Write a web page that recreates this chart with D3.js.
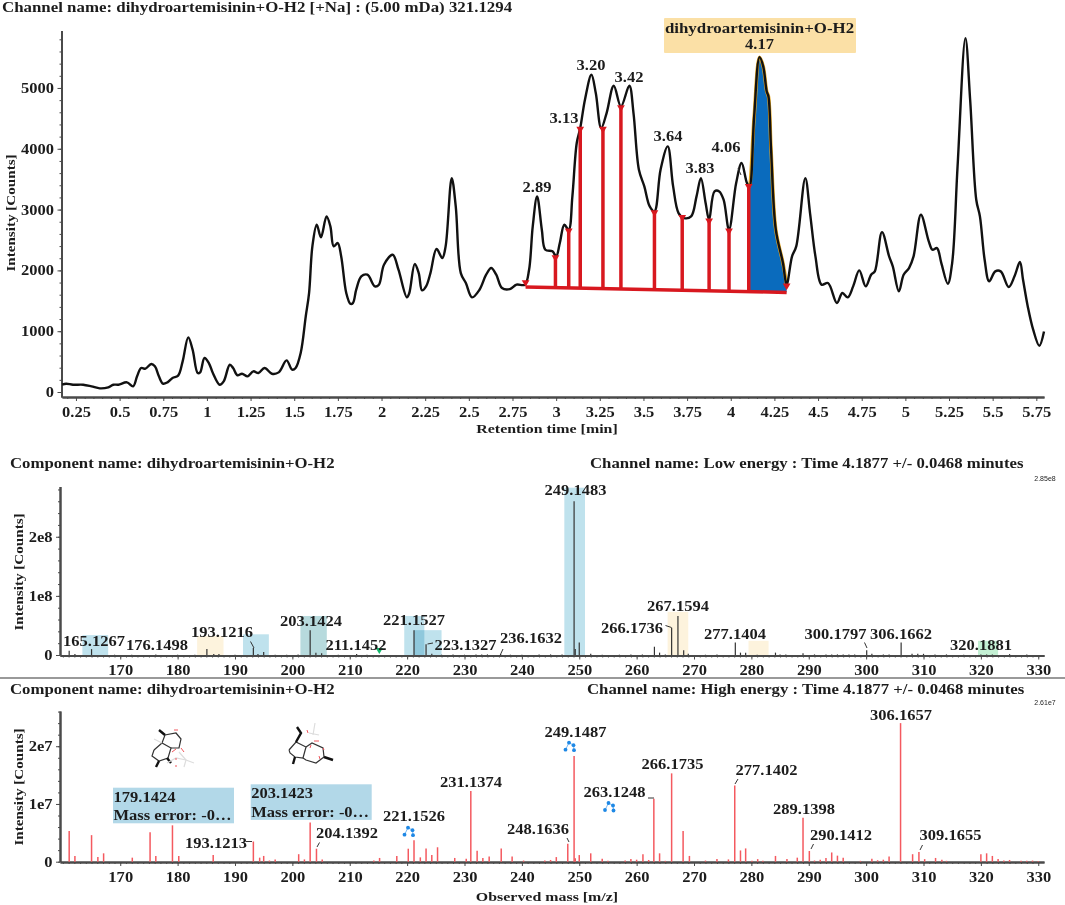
<!DOCTYPE html>
<html>
<head>
<meta charset="utf-8">
<script src="https://cdn.jsdelivr.net/npm/d3@7"></script>
<style>
  html, body { margin: 0; padding: 0; background: #fff; }
  svg { display: block; filter: blur(0.4px); }
  text { font-family: "Liberation Serif", serif; font-weight: bold; fill: #1c1c1c; }
</style>
</head>
<body>
<div id="chart"></div>
<script>
// chromatogram
const rtTimes = [0.171,0.194,0.233,0.291,0.339,0.387,0.435,0.464,0.493,0.542,0.577,0.600,0.623,0.648,0.681,0.702,0.725,0.748,0.774,0.803,0.835,0.861,0.893,0.918,0.947,0.961,0.986,1.011,1.034,1.073,1.096,1.131,1.150,1.175,1.201,1.233,1.266,1.295,1.330,1.372,1.411,1.456,1.488,1.508,1.537,1.566,1.585,1.604,1.629,1.653,1.685,1.707,1.726,1.749,1.769,1.798,1.821,1.836,1.855,1.884,1.919,1.962,1.985,2.014,2.064,2.097,2.145,2.159,2.190,2.213,2.232,2.255,2.280,2.315,2.348,2.367,2.402,2.425,2.454,2.483,2.518,2.561,2.599,2.628,2.657,2.690,2.735,2.773,2.821,2.845,2.866,2.891,2.918,2.938,2.979,3.000,3.021,3.047,3.072,3.093,3.118,3.138,3.165,3.202,3.227,3.258,3.289,3.330,3.371,3.419,3.443,3.474,3.505,3.536,3.563,3.598,3.639,3.670,3.701,3.732,3.773,3.804,3.829,3.856,3.876,3.907,3.934,3.959,3.990,4.031,4.062,4.093,4.107,4.134,4.165,4.186,4.206,4.216,4.231,4.258,4.299,4.320,4.351,4.375,4.427,4.454,4.485,4.520,4.557,4.608,4.639,4.670,4.701,4.736,4.773,4.804,4.825,4.866,4.907,4.928,4.963,4.990,5.021,5.047,5.089,5.134,5.155,5.181,5.206,5.243,5.268,5.299,5.344,5.371,5.406,5.427,5.454,5.480,5.515,5.546,5.592,5.625,5.656,5.674,5.701,5.732,5.767,5.794];
const rtCounts = [120,137,120,120,93,60,77,120,120,159,93,258,395,384,460,422,258,137,159,230,269,504,899,696,312,323,559,477,312,120,175,449,395,274,301,258,340,312,395,301,323,521,367,395,641,1244,1628,2395,2751,2543,2888,2724,2395,2450,2230,1628,1452,1463,1682,1902,1929,1737,1765,2093,2258,2011,1556,1628,2104,1956,1671,1737,1956,2351,2203,2395,3518,3052,1956,1792,1556,1682,1929,2039,1929,1710,1693,1765,1765,2011,2724,3217,2669,2340,2313,2230,2450,2751,2669,3217,4094,4340,4806,5217,4916,4340,4587,5036,4696,5036,4587,3655,3381,3052,2970,3655,4039,3381,2943,2861,2888,3217,3518,3107,2833,3299,3299,3162,2669,3436,3765,3436,3381,4532,5507,5354,4943,4861,3984,2669,2121,1765,2230,2395,3518,2943,2230,1765,1792,1463,1628,1556,1737,2000,1737,1929,1984,2630,2230,2066,1655,1929,2039,2230,2915,2477,2340,2367,2121,1781,2121,3710,5820,4806,3162,2888,2176,1819,1984,1984,1726,1902,2137,1847,1408,1025,762,997];
const rtTicks = [0.25,0.5,0.75,1,1.25,1.5,1.75,2,2.25,2.5,2.75,3,3.25,3.5,3.75,4,4.25,4.5,4.75,5,5.25,5.5,5.75];
const countTicks = [0,1000,2000,3000,4000,5000];

// integration drop lines and the baseline under them
const dropTimes = [2.825,2.996,3.072,3.138,3.268,3.371,3.563,3.722,3.876,3.990,4.103,4.320];
const dropTops = [1819,2230,2669,4340,4340,4696,2970,2890,2833,2669,3400,1765];
const baseTimes = [2.825,4.320];
const baseCounts = [1726,1638];
const peakNames = ['2.89','3.13','3.20','3.42','3.64','3.83','4.06'];

// low energy spectrum, intensity in units of 1e8
const lowMz = [161.1,162.1,165,169,172,176.2,180,183,185.1,186.3,187.2,190,193.2,194,195,197,199,201,203.1,204.1,205.1,208,211.2,213,221.2,223.3,224.3,226,228,230,232,233,234,236.3,238,240,243,245,247,249.1,249.3,250,252,254,257,259,261,263.1,264,265,266.1,267.2,268.2,269,272,274,277.2,278.1,279,281,284.2,285,286,289,291,293,294,295,296,297,298,300.1,301,303,304,306.1,308,309,310,312,314,317,320,321,322,325,328];
const lowInt = [0.07,0.015,0.10,0.005,0.005,0.01,0.005,0.005,0.10,0.015,0.015,0.005,0.12,0.015,0.05,0.005,0.005,0.01,0.42,0.04,0.03,0.005,0.015,0.005,0.42,0.18,0.02,0.005,0.01,0.005,0.01,0.01,0.01,0.015,0.005,0.005,0.01,0.01,0.01,2.60,0.10,0.21,0.02,0.005,0.005,0.01,0.01,0.14,0.04,0.01,0.46,0.66,0.08,0.02,0.005,0.01,0.21,0.04,0.04,0.005,0.04,0.01,0.01,0.03,0.01,0.01,0.01,0.01,0.01,0.01,0.01,0.08,0.02,0.01,0.01,0.21,0.02,0.02,0.02,0.01,0.01,0.005,0.01,0.01,0.01,0.015,0.01];

// high energy spectrum, intensity in units of 1e7
const highMz = [161.1,162.1,165,166.1,167.1,172.1,175.2,176.2,179.1,180.2,186.2,193.2,194.3,195,196,197,201.1,202.1,203.1,204.2,205.2,214.2,215.2,218.2,220.2,221.2,222.3,223.3,224.3,225.3,228.3,230.3,231.1,232.2,233.2,234.3,236.4,238.3,240.3,244,245,246,248,249.1,249.3,250,252,254,255,258,259,260,261.1,262.1,263,264,265,266.1,268.1,269.2,272,274,276,277.1,278.1,279,280.1,281.1,282,284.2,286.2,288,289,290.1,291,292,293,294,295,296,299,301,302,303,304,306,308.1,309.2,310.2,312.1,313.2,314,320,321,322,323,324,325,327,328,329,330];
const highInt = [0.53,0.10,0.46,0.08,0.145,0.07,0.51,0.10,0.63,0.10,0.115,0.35,0.07,0.10,0.02,0.04,0.13,0.04,0.68,0.225,0.04,0.02,0.065,0.10,0.225,0.37,0.075,0.23,0.115,0.25,0.065,0.05,1.225,0.19,0.065,0.09,0.23,0.09,0.02,0.02,0.03,0.08,0.31,1.83,0.06,0.115,0.145,0.05,0.015,0.02,0.045,0.035,0.13,0.03,1.09,0.145,0.015,1.53,0.53,0.10,0.02,0.045,0.04,1.32,0.195,0.23,0.015,0.045,0.015,0.10,0.045,0.07,0.76,0.185,0.02,0.035,0.065,0.16,0.105,0.07,0.015,0.05,0.025,0.035,0.09,2.40,0.13,0.17,0.045,0.065,0.035,0.015,0.13,0.145,0.10,0.045,0.02,0.03,0.015,0.015,0.02,0.01];

const mzTicks = [170,180,190,200,210,220,230,240,250,260,270,280,290,300,310,320,330];

// matched-fragment bands on the low energy spectrum: start, end, height (1e8)
const bandStart = [163.4,183.4,191.4,201.4,219.5,221.2,247.4,265.4,279.5,319.5];
const bandEnd = [167.9,188,195.9,206,223,226,251,269,283,323];
const bandTop = [0.336,0.32,0.35,0.66,0.66,0.42,2.83,0.73,0.24,0.24];
const bandKind = ['b','o','b','t','b','b','b','o','o','g'];
const bandFill = { b: '#bfe2ed', o: '#fdf3dd', t: '#b7dadd', g: '#c4f0d4' };

const width = 1065, height = 905;
const black = '#111', axisColor = '#4a4a4a', red = '#d8181f';

const svg = d3.select('#chart').append('svg').attr('width', width).attr('height', height);
svg.append('rect').attr('width', width).attr('height', height).attr('fill', '#fff');

// bold serif, stretched sideways the way the source image is
function label(str, x, y, anchor = 'middle', size = 14) {
  return svg.append('text')
    .attr('transform', `translate(${x},${y}) scale(1.18,1)`)
    .attr('text-anchor', anchor)
    .attr('dominant-baseline', 'central')
    .style('font-size', size + 'px')
    .text(str);
}

function leader(x1, y1, x2, y2, color = '#333') {
  svg.append('line').attr('x1', x1).attr('y1', y1).attr('x2', x2).attr('y2', y2)
    .attr('stroke', color).attr('stroke-width', 1);
}

// axis pair with long labelled ticks and short unlabelled ones
function drawAxes(x, y, xY, yX, xTicks, xMinor, yTicks, yMinor, yFormat, xFormat) {
  const style = g => {
    g.selectAll('path').attr('stroke', axisColor).attr('stroke-width', 2);
    g.selectAll('line').attr('stroke', axisColor);
    g.selectAll('text').style('font-size', '14px');
  };
  svg.append('g').attr('transform', `translate(0,${xY})`)
    .call(d3.axisBottom(x).tickValues(xMinor).tickSize(2).tickFormat('').tickSizeOuter(0)).call(style);
  const gx = svg.append('g').attr('transform', `translate(0,${xY})`)
    .call(d3.axisBottom(x).tickValues(xTicks).tickSize(4).tickPadding(6).tickFormat(xFormat).tickSizeOuter(0)).call(style);
  svg.append('g').attr('transform', `translate(${yX},0)`)
    .call(d3.axisLeft(y).tickValues(yMinor).tickSize(2).tickFormat('').tickSizeOuter(0)).call(style);
  const gy = svg.append('g').attr('transform', `translate(${yX},0)`)
    .call(d3.axisLeft(y).tickValues(yTicks).tickSize(4).tickPadding(4).tickFormat(yFormat).tickSizeOuter(0)).call(style);
  gx.selectAll('text').attr('transform', 'scale(1.18,1)').attr('x', 0);
  gy.selectAll('text').attr('transform', 'translate(-7.5,0) scale(1.18,1)').attr('x', 0);
}

function yTitle(str, x, y) {
  svg.append('text')
    .attr('transform', `translate(${x},${y}) rotate(-90) scale(1.12,1)`)
    .attr('text-anchor', 'middle')
    .attr('dominant-baseline', 'central')
    .style('font-size', '13.5px')
    .text(str);
}

// ---- chromatogram ----
const xRt = d3.scaleLinear().domain([0.17, 5.794]).range([62, 1044]);
const yCounts = d3.scaleLinear().domain([-82, 5945]).range([397, 30.5]);
const rtMinor = d3.range(0.2, 5.79, 0.05);
const countMinor = d3.range(0, 5900, 200);

label('Channel name: dihydroartemisinin+O-H2 [+Na] : (5.00 mDa) 321.1294', 2, 7, 'start', 14.3);
drawAxes(xRt, yCounts, 397, 61.5, rtTicks, rtMinor, countTicks, countMinor, d3.format('d'), d3.format('~g'));
yTitle('Intensity [Counts]', 10, 213);
label('Retention time [min]', 547, 428, 'middle', 13.5);

const rows = rtTimes.map((t, i) => ({ t, c: rtCounts[i] }));
const line = d3.line().x(d => xRt(d.t)).y(d => yCounts(d.c)).curve(d3.curveCatmullRom.alpha(0.5));

// blue integrated peak down to the baseline
const baseAt = d3.scaleLinear().domain(baseTimes).range(baseCounts);
const lastDrops = dropTimes.slice(-2);
const peakRows = rows.filter(d => d.t > lastDrops[0] && d.t < lastDrops[1]);
const peakEdge = [{ t: lastDrops[0], c: dropTops[10] }, ...peakRows, { t: lastDrops[1], c: dropTops[11] }];
svg.append('path')
  .datum(peakEdge)
  .attr('d', d3.area().x(d => xRt(d.t)).y0(d => yCounts(baseAt(d.t))).y1(d => yCounts(d.c)).curve(d3.curveCatmullRom.alpha(0.5)))
  .attr('fill', '#0a6bbd');
svg.append('path').datum(peakEdge).attr('d', line).attr('fill', 'none').attr('stroke', '#e8a820').attr('stroke-width', 3.5);

svg.append('path').datum(rows).attr('d', line).attr('fill', 'none')
  .attr('stroke', black).attr('stroke-width', 2.4).attr('stroke-linejoin', 'round');

// red integration marks
svg.append('g').selectAll('line').data(dropTimes).join('line')
  .attr('x1', d => xRt(d)).attr('x2', d => xRt(d))
  .attr('y1', (d, i) => yCounts(dropTops[i]))
  .attr('y2', d => yCounts(baseAt(d)))
  .attr('stroke', (d, i) => i === 0 || i === 11 ? 'none' : red)
  .attr('stroke-width', 3.5);
svg.append('line')
  .attr('x1', xRt(baseTimes[0])).attr('y1', yCounts(baseCounts[0]))
  .attr('x2', xRt(baseTimes[1])).attr('y2', yCounts(baseCounts[1]))
  .attr('stroke', red).attr('stroke-width', 3.5);
svg.append('g').selectAll('path').data(dropTimes).join('path')
  .attr('transform', (d, i) => `translate(${xRt(d)},${yCounts(dropTops[i]) + 1}) rotate(180)`)
  .attr('d', d3.symbol(d3.symbolTriangle, 26))
  .attr('fill', red);

const peakLabelX = [537, 564, 591, 629, 668, 700, 726];
const peakLabelY = [187, 118, 65, 77, 136, 168, 147];
peakNames.forEach((p, i) => label(p, peakLabelX[i], peakLabelY[i], 'middle', 14));
leader(738, 168, 741, 175);

svg.append('rect').attr('x', 664).attr('y', 18).attr('width', 192).attr('height', 35).attr('rx', 1).attr('fill', '#fbe0a6');
label('dihydroartemisinin+O-H2', 759.5, 27.5, 'middle', 14.3);
label('4.17', 759.5, 44, 'middle', 14);

// ---- spectra ----
const xMz = d3.scaleLinear().domain([159.5, 331]).range([60, 1044]);
const mzMinor = d3.range(160, 331, 1);

// low energy
const yLow = d3.scaleLinear().domain([0, 2.85]).range([655, 486.5]);
label('Component name: dihydroartemisinin+O-H2', 10, 463, 'start', 14.2);
label('Channel name: Low energy : Time 4.1877 +/- 0.0468 minutes', 590, 463, 'start', 14.2);
svg.append('text').attr('x', 1045).attr('y', 478).attr('text-anchor', 'middle').attr('dominant-baseline', 'central')
  .style('font-family', 'Liberation Sans').style('font-weight', 'normal').style('font-size', '7px').text('2.85e8');

svg.append('g').selectAll('rect').data(bandStart).join('rect')
  .attr('x', d => xMz(d))
  .attr('width', (d, i) => xMz(bandEnd[i]) - xMz(d))
  .attr('y', (d, i) => yLow(bandTop[i]))
  .attr('height', (d, i) => yLow(0) - yLow(bandTop[i]))
  .attr('fill', (d, i) => bandFill[bandKind[i]])
  .attr('style', 'mix-blend-mode:multiply');

drawAxes(xMz, yLow, 655.5, 60, mzTicks, mzMinor, [0, 1, 2], d3.range(0, 2.85, 0.2),
  d => d === 0 ? '0' : d + 'e8', d3.format('d'));
yTitle('Intensity [Counts]', 18, 572);

svg.append('g').selectAll('line').data(lowMz).join('line')
  .attr('x1', d => xMz(d)).attr('x2', d => xMz(d))
  .attr('y1', (d, i) => yLow(lowInt[i])).attr('y2', yLow(0))
  .attr('stroke', '#333').attr('stroke-width', 1.2);

svg.append('path')
  .attr('transform', `translate(${xMz(215.15)},${yLow(0) - 5}) rotate(180)`)
  .attr('d', d3.symbol(d3.symbolTriangle, 22)).attr('fill', '#12b76a');

const lowNames = ['165.1267','176.1498','193.1216','203.1424','211.1452','221.1527','223.1327','236.1632','249.1483','267.1594','266.1736','277.1404','300.1797','306.1662','320.1881'];
const lowLabelX = [94, 157, 222, 311, 356, 414, 465.5, 531, 575.5, 678, 632, 735, 835.5, 901, 981];
const lowLabelY = [640.5, 645, 632, 621, 645, 620, 644.5, 638, 490, 605.5, 627.5, 633.5, 633.5, 633.5, 645];
lowNames.forEach((n, i) => label(n, lowLabelX[i], lowLabelY[i]));
leader(250.5, 641.5, 254, 648);
leader(427.5, 644, 433, 643);
leader(500, 655.5, 503, 649);
leader(665.5, 625.5, 671.5, 627.5);
leader(864.5, 642.5, 867, 648);

svg.append('rect').attr('x', 0).attr('y', 677).attr('width', width).attr('height', 2).attr('fill', '#999');

// high energy
const yHigh = d3.scaleLinear().domain([0, 2.61]).range([861.7, 711]);
label('Component name: dihydroartemisinin+O-H2', 10, 689, 'start', 14.2);
label('Channel name: High energy : Time 4.1877 +/- 0.0468 minutes', 587, 689, 'start', 14.2);
svg.append('text').attr('x', 1045).attr('y', 702).attr('text-anchor', 'middle').attr('dominant-baseline', 'central')
  .style('font-family', 'Liberation Sans').style('font-weight', 'normal').style('font-size', '7px').text('2.61e7');

drawAxes(xMz, yHigh, 862, 60, mzTicks, mzMinor, [0, 1, 2], d3.range(0, 2.61, 0.2),
  d => d === 0 ? '0' : d + 'e7', d3.format('d'));
yTitle('Intensity [Counts]', 18, 787);
label('Observed mass [m/z]', 547, 896.5, 'middle', 13.5);

svg.append('g').selectAll('line').data(highMz).join('line')
  .attr('x1', d => xMz(d)).attr('x2', d => xMz(d))
  .attr('y1', (d, i) => yHigh(highInt[i])).attr('y2', yHigh(0))
  .attr('stroke', '#f4595f').attr('stroke-width', 1.5);

const highNames = ['193.1213','204.1392','221.1526','231.1374','248.1636','249.1487','266.1735','263.1248','277.1402','289.1398','290.1412','306.1657','309.1655'];
const highLabelX = [216, 347, 414, 471, 538, 575.5, 672.5, 614.5, 766.5, 804, 841, 901, 950.5];
const highLabelY = [842.5, 832.5, 816, 781.5, 829, 731.5, 763.5, 791.5, 770, 808.5, 834.5, 714.5, 835];
highNames.forEach((n, i) => label(n, highLabelX[i], highLabelY[i]));
leader(246, 841.5, 252, 841.5);
leader(317, 847, 319.5, 842.5);
leader(567, 838, 569, 842);
leader(648, 798, 654, 798);
leader(735, 784, 738, 779);
leader(811, 849, 813.5, 844);
leader(920, 850, 922.5, 845);

// annotation boxes
[[113, 787.7, '179.1424', 796.7, 815], [250.7, 784.3, '203.1423', 793, 811.7]].forEach(b => {
  svg.append('rect').attr('x', b[0]).attr('y', b[1]).attr('width', 121).attr('height', 35.6).attr('fill', '#b2d8e8');
  label(b[2], b[0] + 0.5, b[3], 'start');
  label('Mass error: -0…', b[0] + 0.5, b[4], 'start');
});

// blue fragment icons
[[409, 831.7], [570, 746.7], [609.5, 807]].forEach(p => {
  const g = svg.append('g').attr('transform', `translate(${p[0]},${p[1]})`).attr('fill', '#1e88e5');
  [[-1, -4], [-4.5, 3], [4, 3.5], [3.5, -1.5]].forEach(o =>
    g.append('circle').attr('cx', o[0]).attr('cy', o[1]).attr('r', 1.9));
  g.append('path').attr('d', 'M-1,-4L-4.5,3M-1,-4L3.5,-1.5L4,3.5').attr('stroke', '#1e88e5').attr('stroke-width', 0.6).attr('fill', 'none');
});

// fragment structures, traced as bond lists
const structures = [
  { color: '#333', w: 1.2, segs: [[154,70,162,63,171,68,168,78,159,81,152,76,154,70],[162,63,165,55,176,53,181,59,179,68,171,68]] },
  { color: '#111', w: 2.4, segs: [[165,55,159,50],[159,81,156,87],[167,78,171,83]] },
  { color: '#ddd', w: 1.2, segs: [[167,83,176,78,186,80,194,83],[179,72,186,80,184,87],[154,59,162,63]] },
  { color: '#f0565c', w: 1, segs: [[174,50,178,50],[172,72,176,69],[181,68,184,72],[176,85,176,87],[176,78,176,80]] },
  { color: '#333', w: 1.2, segs: [[289,70,296,62,306,67,303,78,295,77,290,73,289,70],[306,67,312,63,323,68,324,77,316,83,306,80,303,78]] },
  { color: '#111', w: 2.4, segs: [[296,62,301,53,297,47],[295,77,293,84],[324,77,333,80]] },
  { color: '#ddd', w: 1.2, segs: [[313,55,315,43],[309,53,319,55]] },
  { color: '#f0565c', w: 1, segs: [[307,50,308,53],[314,61,319,61],[310,68,311,65],[319,76,320,79],[323,68,324,70]] }
];
structures.forEach(s => s.segs.forEach(seg => {
  const pts = [];
  for (let i = 0; i < seg.length; i += 2) pts.push([seg[i], seg[i + 1] + 680]);
  svg.append('path').attr('d', d3.line()(pts)).attr('fill', 'none').attr('stroke', s.color).attr('stroke-width', s.w);
}));
</script>
</body>
</html>
